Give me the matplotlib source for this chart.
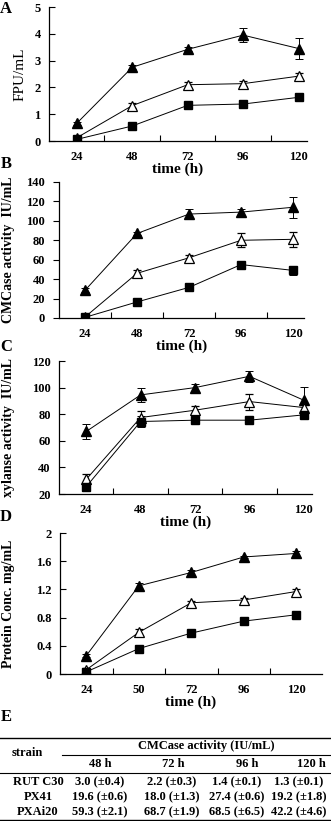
import matplotlib
matplotlib.use("Agg")
import matplotlib.pyplot as plt
from matplotlib.lines import Line2D
import numpy as np

plt.rcParams['font.family'] = ['Liberation Serif', 'DejaVu Serif']
plt.rcParams['font.weight'] = 'bold'

# x categories
hours_abc = ['24', '48', '72', '96', '120']
hours_d = ['24', '50', '72', '96', '120']

# A: filter paper activity (FPU/mL)
fpu_pxai20 = [0.66, 2.75, 3.42, 3.95, 3.45]
fpu_px41 = [0.12, 1.32, 2.10, 2.14, 2.42]
fpu_rut = [0.06, 0.56, 1.33, 1.38, 1.63]
fpu_err_pxai20 = [0.05, 0.08, 0.08, 0.25, 0.40]
fpu_err_px41 = [0.03, 0.08, 0.12, 0.10, 0.10]
fpu_err_rut = [0.02, 0.05, 0.05, 0.05, 0.10]

# B: CMCase activity (IU/mL)
cmc_pxai20 = [28.5, 87, 107, 109, 114]
cmc_px41 = [1, 46, 62, 80, 81]
cmc_rut = [0.7, 16.5, 31.5, 55, 49]
cmc_err_pxai20 = [2, 2, 5, 3, 11]
cmc_err_px41 = [1, 3, 3, 7, 8]
cmc_err_rut = [1, 2, 2, 3, 5]

# C: xylanase activity (IU/mL)
xyl_pxai20 = [67, 94.5, 100, 108.5, 90.5]
xyl_px41 = [31, 77.5, 83, 89.5, 85]
xyl_rut = [25.5, 74.5, 75.5, 75.5, 79.5]
xyl_err_pxai20 = [6, 5, 3, 4, 10]
xyl_err_px41 = [4, 5, 3, 6, 3]
xyl_err_rut = [3, 4, 2, 2, 2]

# D: protein concentration (mg/mL)
prot_pxai20 = [0.26, 1.25, 1.44, 1.66, 1.71]
prot_px41 = [0.06, 0.59, 1.01, 1.05, 1.17]
prot_rut = [0.03, 0.36, 0.58, 0.75, 0.84]
prot_err_pxai20 = [0.02, 0.04, 0.03, 0.02, 0.04]
prot_err_px41 = [0.02, 0.05, 0.03, 0.03, 0.04]
prot_err_rut = [0.01, 0.02, 0.02, 0.02, 0.02]

# E: table
strains = ['RUT C30', 'PX41', 'PXAi20']
table_hours = ['48 h', '72 h', '96 h', '120 h']
table_vals = [
    ['3.0 (±0.4)', '2.2 (±0.3)', '1.4 (±0.1)', '1.3 (±0.1)'],
    ['19.6 (±0.6)', '18.0 (±1.3)', '27.4 (±0.6)', '19.2 (±1.8)'],
    ['59.3 (±2.1)', '68.7 (±1.9)', '68.5 (±6.5)', '42.2 (±4.6)'],
]

W, H = 331, 821
fig = plt.figure(figsize=(W / 100, H / 100), dpi=100)


def px_axes(left, top, right, bottom):
    return fig.add_axes([left / W, 1 - bottom / H, (right - left) / W, (bottom - top) / H])


def panel(ax, labels, series, errs, yticks, yticklabels, ylabel, xmax, ydir, ylabel_x,
          ylabel_bold=True, ylabel_fs=10):
    x = np.arange(len(labels))
    styles = [
        dict(marker='^', mfc='black', mec='black', ms=7),
        dict(marker='^', mfc='white', mec='black', ms=7, mew=0.9),
        dict(marker='s', mfc='black', mec='black', ms=5.5),
    ]
    for y, e, st in zip(series, errs, styles):
        ax.errorbar(x, y, yerr=e, color='black', lw=0.7, capsize=3, elinewidth=0.7,
                    capthick=0.7, **st)
    ax.set_xlim(-0.5, xmax)
    ax.set_ylim(yticks[0], yticks[-1])
    ax.set_yticks(yticks)
    ax.set_yticklabels(yticklabels, fontsize=9, fontweight='bold')
    ax.set_xticks(x)
    ax.set_xticklabels(labels, fontsize=9, fontweight='bold')
    ax.set_xticks(np.arange(0.5, len(labels) - 1, 1.0), minor=True)
    ax.tick_params(axis='x', which='major', length=0, pad=7)
    ax.tick_params(axis='x', which='minor', direction='in', length=4, width=0.8)
    ax.tick_params(axis='y', direction=ydir, length=4, width=0.8, pad=6)
    for s in ['top', 'right']:
        ax.spines[s].set_visible(False)
    for s in ['left', 'bottom']:
        ax.spines[s].set_linewidth(0.9)
    ax.set_xlabel('time (h)', fontsize=11, fontweight='bold', labelpad=0)
    ax.set_ylabel(ylabel, fontsize=ylabel_fs, fontweight='bold' if ylabel_bold else 'normal')
    pos = ax.get_position()
    ax.yaxis.set_label_coords(ylabel_x, pos.y0 + pos.height / 2, transform=fig.transFigure)


axA = px_axes(49, 7, 307, 141)
panel(axA, hours_abc, [fpu_pxai20, fpu_px41, fpu_rut],
      [fpu_err_pxai20, fpu_err_px41, fpu_err_rut],
      [0, 1, 2, 3, 4, 5], ['0', '1', '2', '3', '4', '5'], 'FPU/mL', 4.15, 'in',
      27 / W, ylabel_bold=False, ylabel_fs=11)

axB = px_axes(59, 182, 304, 318)
panel(axB, hours_abc, [cmc_pxai20, cmc_px41, cmc_rut],
      [cmc_err_pxai20, cmc_err_px41, cmc_err_rut],
      list(range(0, 141, 20)), [str(v) for v in range(0, 141, 20)],
      'CMCase activity  IU/mL', 4.21, 'out', 15 / W)

axC = px_axes(59, 361, 312, 494)
panel(axC, hours_abc, [xyl_pxai20, xyl_px41, xyl_rut],
      [xyl_err_pxai20, xyl_err_px41, xyl_err_rut],
      list(range(20, 121, 20)), [str(v) for v in range(20, 121, 20)],
      'xylanse activity  IU/mL', 4.15, 'in', 15 / W)

axD = px_axes(60, 533, 322, 674)
dticks = [0, 0.4, 0.8, 1.2, 1.6, 2.0]
panel(axD, hours_d, [prot_pxai20, prot_px41, prot_rut],
      [prot_err_pxai20, prot_err_px41, prot_err_rut],
      dticks, ['0', '0.4', '0.8', '1.2', '1.6', '2'],
      'Protein Conc. mg/mL', 4.49, 'in', 15 / W)

# panel letters
for letter, ypx in [('A', 9), ('B', 164), ('C', 347), ('D', 517), ('E', 717)]:
    fig.text(6 / W, 1 - ypx / H, letter, fontsize=12, fontweight='bold',
             ha='center', va='center')

# table E
axT = fig.add_axes([0, 0, 1, 1])
axT.set_xlim(0, W)
axT.set_ylim(H, 0)
axT.axis('off')
axT.add_line(Line2D([0, W], [738, 738], color='black', lw=1.0))
axT.add_line(Line2D([62, W], [755, 755], color='black', lw=0.8))
axT.add_line(Line2D([0, W], [773, 773], color='black', lw=0.8))
axT.add_line(Line2D([0, W], [820, 820], color='black', lw=1.0))
fs = 9
axT.text(27, 753, 'strain', fontsize=fs, fontweight='bold', ha='center', va='center')
axT.text(206, 746, 'CMCase activity (IU/mL)', fontsize=fs, fontweight='bold',
         ha='center', va='center')
head_x = [100, 173, 247, 311]
for cx, hl in zip(head_x, table_hours):
    axT.text(cx, 764, hl, fontsize=fs, fontweight='bold', ha='center', va='center')
col_x = [100, 172, 237, 299]
row_y = [782, 797, 812]
for ry, name, vals in zip(row_y, strains, table_vals):
    axT.text(38, ry, name, fontsize=fs, fontweight='bold', ha='center', va='center')
    for cx, v in zip(col_x, vals):
        axT.text(cx, ry, v, fontsize=fs, fontweight='bold', ha='center', va='center')

fig.savefig('out.png', dpi=100)
